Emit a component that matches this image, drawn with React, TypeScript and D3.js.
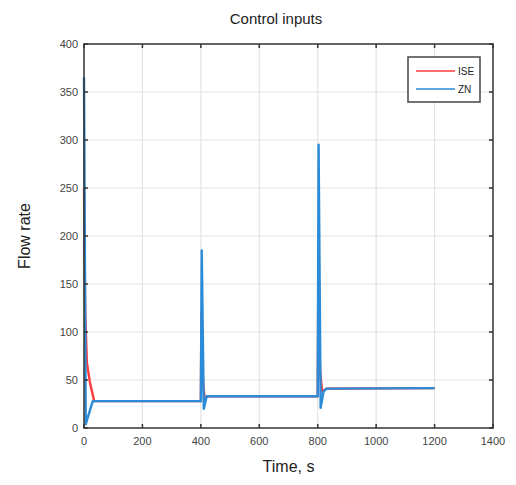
import { useEffect, useRef } from 'react';
import * as d3 from 'd3';

// series: [time, flow rate]
const iseTime = [0, 4, 10, 20, 35, 50, 400, 402, 407, 413, 425, 800, 802, 808, 815, 830, 1200];
const iseFlow = [250, 120, 68, 48, 28, 28, 28, 120, 50, 31, 33, 33, 150, 60, 38, 41, 41.5];
const znTime = [0, 6, 30, 400, 403, 410, 420, 800, 803, 810, 820, 830, 1200];
const znFlow = [365, 4, 28, 28, 185, 20, 33, 33, 295, 21, 38, 41, 41.5];

const xTicks = [0, 200, 400, 600, 800, 1000, 1200, 1400];
const yTicks = [0, 50, 100, 150, 200, 250, 300, 350, 400];
const legendNames = ['ISE', 'ZN'];
const colors = ['#ff3b3b', '#2a8bd8'];

const App = () => {
    const svgRef = useRef<SVGSVGElement>(null);

    useEffect(() => {
        const width = 516;
        const height = 485;
        const m = { left: 84, top: 44, right: 23, bottom: 57 };

        const svg = d3.select(svgRef.current)
            .attr('width', width)
            .attr('height', height)
            .style('font-family', 'Liberation Sans, Arial, sans-serif');
        svg.selectAll('*').remove();

        const x = d3.scaleLinear().domain([0, 1400]).range([m.left, width - m.right]);
        const y = d3.scaleLinear().domain([0, 400]).range([height - m.bottom, m.top]);

        svg.append('rect').attr('width', width).attr('height', height).attr('fill', '#fff');

        // grid
        svg.append('g').selectAll('line').data(xTicks.slice(1, -1)).enter().append('line')
            .attr('x1', d => x(d)).attr('x2', d => x(d))
            .attr('y1', y(0)).attr('y2', y(400))
            .attr('stroke', '#e3e3e3').attr('stroke-width', 1.2);
        svg.append('g').selectAll('line').data(yTicks.slice(1, -1)).enter().append('line')
            .attr('x1', x(0)).attr('x2', x(1400))
            .attr('y1', d => y(d)).attr('y2', d => y(d))
            .attr('stroke', '#e3e3e3').attr('stroke-width', 1.2);

        const line = d3.line<number>();
        const drawSeries = (ts: number[], vs: number[], color: string) => {
            svg.append('path')
                .attr('d', line(ts.map((t, i) => [x(t), y(vs[i])]) as any))
                .attr('fill', 'none')
                .attr('stroke', color)
                .attr('stroke-width', 2.4)
                .attr('stroke-linejoin', 'round');
        };
        drawSeries(iseTime, iseFlow, colors[0]);
        drawSeries(znTime, znFlow, colors[1]);

        // axes box
        svg.append('rect')
            .attr('x', x(0)).attr('y', y(400))
            .attr('width', x(1400) - x(0)).attr('height', y(0) - y(400))
            .attr('fill', 'none').attr('stroke', '#333').attr('stroke-width', 1.5);

        // ticks inward
        const tk = 4;
        svg.append('g').selectAll('path').data(xTicks).enter().append('path')
            .attr('d', d => `M${x(d)},${y(0)}v${-tk}M${x(d)},${y(400)}v${tk}`)
            .attr('stroke', '#333').attr('stroke-width', 1.5);
        svg.append('g').selectAll('path').data(yTicks).enter().append('path')
            .attr('d', d => `M${x(0)},${y(d)}h${tk}M${x(1400)},${y(d)}h${-tk}`)
            .attr('stroke', '#333').attr('stroke-width', 1.5);

        // tick labels
        svg.append('g').selectAll('text').data(xTicks).enter().append('text')
            .attr('x', d => x(d)).attr('y', y(0) + 17)
            .attr('text-anchor', 'middle').attr('font-size', 11).attr('fill', '#444')
            .text(d => d);
        svg.append('g').selectAll('text').data(yTicks).enter().append('text')
            .attr('x', x(0) - 6).attr('y', d => y(d) + 4)
            .attr('text-anchor', 'end').attr('font-size', 11).attr('fill', '#444')
            .text(d => d);

        // titles
        svg.append('text').attr('x', 276).attr('y', 24)
            .attr('text-anchor', 'middle').attr('font-size', 15).attr('fill', '#222')
            .text('Control inputs');
        svg.append('text').attr('x', (x(0) + x(1400)) / 2).attr('y', 472)
            .attr('text-anchor', 'middle').attr('font-size', 16).attr('fill', '#222')
            .text('Time, s');
        svg.append('text')
            .attr('transform', `translate(30,${(y(0) + y(400)) / 2}) rotate(-90)`)
            .attr('text-anchor', 'middle').attr('font-size', 16).attr('fill', '#222')
            .text('Flow rate');

        // legend
        const lg = svg.append('g').attr('transform', 'translate(408,57)');
        lg.append('rect').attr('width', 72).attr('height', 45)
            .attr('fill', '#fff').attr('stroke', '#444').attr('stroke-width', 1.5);
        legendNames.forEach((name, i) => {
            const ly = 14 + i * 18;
            lg.append('line').attr('x1', 8).attr('x2', 47).attr('y1', ly).attr('y2', ly)
                .attr('stroke', colors[i]).attr('stroke-width', 1.5);
            lg.append('text').attr('x', 50).attr('y', ly + 4).attr('font-size', 10)
                .attr('fill', '#222').text(name);
        });
    }, []);

    return (
        <div style={{ position: 'absolute', left: 0, top: 0 }}>
            <svg ref={svgRef}></svg>
        </div>
    );
};

export default App;
